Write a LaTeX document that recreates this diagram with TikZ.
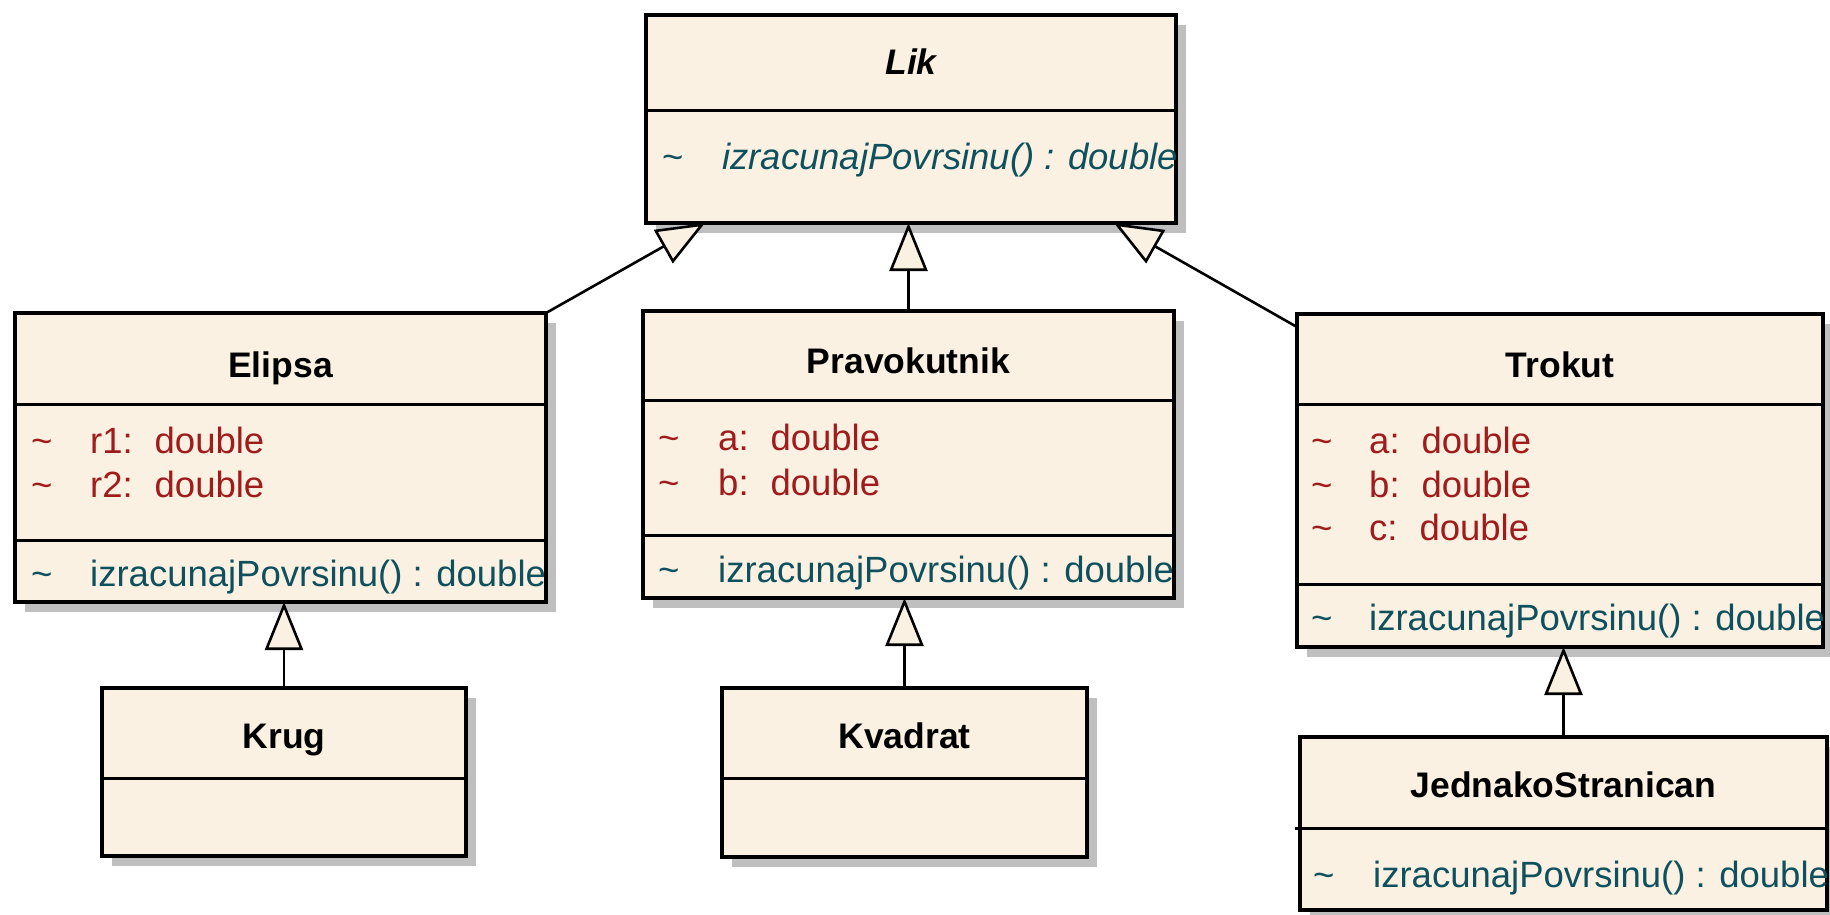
\documentclass[tikz,border=0pt]{standalone}
\usepackage{fontspec}
\setmainfont{Liberation Sans}
\usetikzlibrary{arrows.meta,shadows}

\definecolor{cream}{RGB}{251,241,226}
\definecolor{shade}{RGB}{191,191,191}
\definecolor{attrred}{RGB}{160,28,28}
\definecolor{opteal}{RGB}{14,80,94}

\begin{document}
\begin{tikzpicture}[x=1pt,y=-1pt,
  classbox/.style={draw=black, line width=3.6pt, fill=cream, outer sep=0pt,
    inner sep=0pt, anchor=north west,
    general shadow={fill=shade, shadow xshift=10pt, shadow yshift=-10pt}},
  divider/.style={line width=3pt},
  title/.style={anchor=base, inner sep=0pt, font=\fontsize{35.5}{40}\selectfont\bfseries},
  member/.style={anchor=base west, inner sep=0pt, font=\fontsize{36.5}{40}\selectfont},
  attr/.style={member, text=attrred},
  oper/.style={member, text=opteal},
  inherit/.style={line width=2.6pt,
    -{Triangle[open, fill=cream, length=48pt, width=38pt, line width=2.6pt]}}]

\useasboundingbox (0,0) rectangle (1830,914);

% ---------- Lik ----------
\node[classbox, minimum width=530pt, minimum height=208pt] (lik) at (646,15) {};
\draw[divider] (lik.west |- 0,110) -- (lik.east |- 0,110);
\node[title, font=\fontsize{35.5}{40}\selectfont\bfseries\itshape] (lik-name) at (lik.north |- 0,74) {Lik};
\node[oper] (lik-v1) at (662,169) {\textasciitilde};
\node[oper, font=\fontsize{36.5}{40}\selectfont\itshape] (lik-op1) at (722,169) {izracunajPovrsinu() : double};

% ---------- Elipsa ----------
\node[classbox, minimum width=531pt, minimum height=289pt] (elipsa) at (15,313) {};
\draw[divider] (elipsa.west |- 0,404) -- (elipsa.east |- 0,404);
\draw[divider] (elipsa.west |- 0,540) -- (elipsa.east |- 0,540);
\node[title] (elipsa-name) at (elipsa.north |- 0,377) {Elipsa};
\node[attr] (elipsa-v1) at (31,453) {\textasciitilde};
\node[attr] (elipsa-a1) at (90,453) {r1:\hspace{0.6em}double};
\node[attr] (elipsa-v2) at (31,497) {\textasciitilde};
\node[attr] (elipsa-a2) at (90,497) {r2:\hspace{0.6em}double};
\node[oper] (elipsa-v3) at (31,586) {\textasciitilde};
\node[oper] (elipsa-op1) at (90,586) {izracunajPovrsinu() : double};

% ---------- Pravokutnik ----------
\node[classbox, minimum width=531pt, minimum height=287pt] (prav) at (643,311) {};
\draw[divider] (prav.west |- 0,400) -- (prav.east |- 0,400);
\draw[divider] (prav.west |- 0,535) -- (prav.east |- 0,535);
\node[title] (prav-name) at (prav.north |- 0,373) {Pravokutnik};
\node[attr] (prav-v1) at (658,450) {\textasciitilde};
\node[attr] (prav-a1) at (718,450) {a:\hspace{0.6em}double};
\node[attr] (prav-v2) at (658,495) {\textasciitilde};
\node[attr] (prav-a2) at (718,495) {b:\hspace{0.6em}double};
\node[oper] (prav-v3) at (658,582) {\textasciitilde};
\node[oper] (prav-op1) at (718,582) {izracunajPovrsinu() : double};

% ---------- Trokut ----------
\node[classbox, minimum width=526pt, minimum height=333pt] (trokut) at (1297,314) {};
\draw[divider] (trokut.west |- 0,404) -- (trokut.east |- 0,404);
\draw[divider] (trokut.west |- 0,584) -- (trokut.east |- 0,584);
\node[title] (trokut-name) at (trokut.north |- 0,377) {Trokut};
\node[attr] (trokut-v1) at (1311,453) {\textasciitilde};
\node[attr] (trokut-a1) at (1369,453) {a:\hspace{0.6em}double};
\node[attr] (trokut-v2) at (1311,497) {\textasciitilde};
\node[attr] (trokut-a2) at (1369,497) {b:\hspace{0.6em}double};
\node[attr] (trokut-v3) at (1311,540) {\textasciitilde};
\node[attr] (trokut-a3) at (1369,540) {c:\hspace{0.6em}double};
\node[oper] (trokut-v4) at (1311,630) {\textasciitilde};
\node[oper] (trokut-op1) at (1369,630) {izracunajPovrsinu() : double};

% ---------- Krug ----------
\node[classbox, minimum width=364pt, minimum height=168pt] (krug) at (102,688) {};
\draw[divider] (krug.west |- 0,778) -- (krug.east |- 0,778);
\node[title] (krug-name) at (krug.north |- 0,748) {Krug};

% ---------- Kvadrat ----------
\node[classbox, minimum width=365pt, minimum height=169pt] (kvadrat) at (722,688) {};
\draw[divider] (kvadrat.west |- 0,778) -- (kvadrat.east |- 0,778);
\node[title] (kvadrat-name) at (kvadrat.north |- 0,748) {Kvadrat};

% ---------- JednakoStranican ----------
\node[classbox, minimum width=527pt, minimum height=173pt] (js) at (1300,737) {};
\draw[divider] ([xshift=-5pt]js.west |- 0,828) -- (js.east |- 0,828);
\node[title] (js-name) at (js.north |- 0,797) {JednakoStranican};
\node[oper] (js-v1) at (1313,887) {\textasciitilde};
\node[oper] (js-op1) at (1373,887) {izracunajPovrsinu() : double};

% ---------- generalisations ----------
\coordinate (elipsa-tip) at (705,223);
\coordinate (trokut-tip) at (1114,223);
\draw[inherit] (elipsa.north east) -- (elipsa-tip);
\draw[inherit] (prav.north) -- (prav.north |- lik.south);
\draw[inherit] (trokut.west |- 0,327) -- (trokut-tip);
\draw[inherit] (krug.north) -- (krug.north |- elipsa.south);
\draw[inherit] (kvadrat.north) -- (kvadrat.north |- prav.south);
\draw[inherit] (js.north) -- (js.north |- trokut.south);

\end{tikzpicture}
\end{document}
